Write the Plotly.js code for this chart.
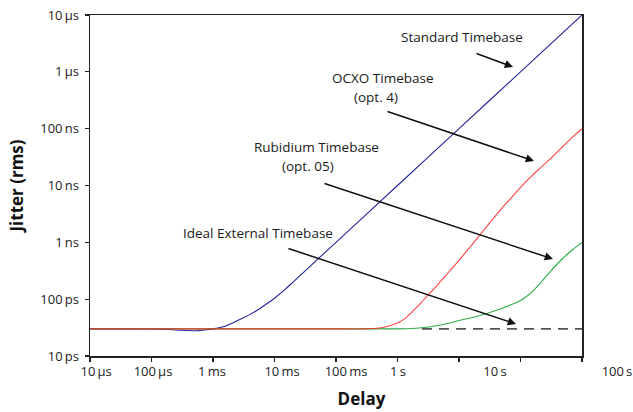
<!DOCTYPE html>
<html>
<head>
<meta charset="utf-8">
<script src="https://cdn.plot.ly/plotly-3.0.1.min.js"></script>
<style>html,body{margin:0;padding:0;background:#fff;}</style>
</head>
<body>
<div id="chart" style="width:633px;height:412px;"></div>
<script>
// ---- data (delay in seconds, jitter in seconds rms) ----
const stdDelay  = [1e-5, 5e-5, 1e-4, 2e-4, 3e-4, 4.5e-4, 6e-4, 8e-4, 1e-3, 1.2e-3, 1.5e-3, 2e-3, 3e-3, 4e-3, 5e-3, 7e-3, 1e-2, 1.5e-2, 2e-2, 3e-2, 1e-1, 1, 10, 100, 1000];
const stdJitter = [3e-11, 3e-11, 2.98e-11, 2.92e-11, 2.83e-11, 2.78e-11, 2.8e-11, 2.9e-11, 3.0e-11, 3.1e-11, 3.3e-11, 3.75e-11, 4.6e-11, 5.4e-11, 6.2e-11, 7.9e-11, 1.04e-10, 1.5e-10, 2.0e-10, 3.0e-10, 1e-9, 1e-8, 1e-7, 1e-6, 1e-5];

const ocxoDelay  = [1e-5, 1e-3, 1e-1, 0.3, 0.5, 0.7, 1, 1.3, 1.6, 2, 2.5, 3, 4, 5, 7, 10, 15, 20, 30, 40, 50, 70, 100, 150, 200, 300, 500, 700, 1000];
const ocxoJitter = [3e-11, 3e-11, 3e-11, 3.0e-11, 3.1e-11, 3.35e-11, 3.8e-11, 4.5e-11, 5.5e-11, 7e-11, 9e-11, 1.12e-10, 1.55e-10, 2.05e-10, 3.1e-10, 4.8e-10, 8.2e-10, 1.2e-9, 2.05e-9, 3.0e-9, 4.0e-9, 6.0e-9, 9.3e-9, 1.45e-8, 1.95e-8, 2.9e-8, 5e-8, 7.1e-8, 1e-7];

const rbDelay  = [1e-5, 1e-3, 1e-1, 1, 2, 3, 5, 7, 10, 15, 20, 30, 50, 70, 100, 130, 160, 200, 250, 300, 400, 500, 700, 1000];
const rbJitter = [3e-11, 3e-11, 3e-11, 3e-11, 3.08e-11, 3.2e-11, 3.5e-11, 3.8e-11, 4.2e-11, 4.65e-11, 5.0e-11, 5.7e-11, 6.9e-11, 8.0e-11, 9.5e-11, 1.15e-10, 1.4e-10, 1.8e-10, 2.4e-10, 3.0e-10, 4.2e-10, 5.35e-10, 7.4e-10, 1e-9];

const idealDelay  = [2.5, 1000];
const idealJitter = [3e-11, 3e-11];

const yTickVals = [1e-11, 1e-10, 1e-9, 1e-8, 1e-7, 1e-6, 1e-5];
const yTickText = ["10\u2009ps", "100\u2009ps", "1\u2009ns", "10\u2009ns", "100\u2009ns", "1\u2009\u00b5s", "10\u2009\u00b5s"];

const xTickVals = [1e-5, 1e-4, 1e-3, 1e-2, 1e-1, 1, 10, 100, 1000];
const xLabelText = ["10\u2009\u00b5s", "100\u2009\u00b5s", "1\u2009ms", "10\u2009ms", "100\u2009ms", "1\u2009s", "10\u2009s", "100\u2009s"];
const xLabelPos  = [-4.90, -3.976, -3.016, -1.878, -0.837, 0.008, 1.585, 3.569]; // log10 positions of printed labels

const seriesLabels = ["Standard Timebase", "OCXO Timebase", "(opt. 4)", "Rubidium Timebase", "(opt. 05)", "Ideal External Timebase"];

// ---- traces ----
const smooth = {shape: 'spline', smoothing: 0.5};
const traces = [
  {x: stdDelay, y: stdJitter, type: 'scatter', mode: 'lines', line: Object.assign({color: '#23239a', width: 1.1}, smooth), hoverinfo: 'skip'},
  {x: rbDelay, y: rbJitter, type: 'scatter', mode: 'lines', line: Object.assign({color: '#2eaa48', width: 1.1}, smooth), hoverinfo: 'skip'},
  {x: ocxoDelay, y: ocxoJitter, type: 'scatter', mode: 'lines', line: Object.assign({color: '#ff2020', width: 1.1}, smooth), opacity: 0.85, hoverinfo: 'skip'},
  {x: idealDelay, y: idealJitter, type: 'scatter', mode: 'lines', line: {color: '#555555', width: 1.6, dash: '10px,7px'}, hoverinfo: 'skip'},
  // carrier for the printed delay labels axis (no visible marks)
  {x: [], y: [], xaxis: 'x2', yaxis: 'y', type: 'scatter', mode: 'lines', hoverinfo: 'skip'}
];

function arrow(hx, hy, tx, ty) {
  return {x: hx, y: hy, ax: tx, ay: ty, xref: 'x', yref: 'y', axref: 'x', ayref: 'y',
          text: '', showarrow: true, arrowhead: 2, arrowsize: 1.1, arrowwidth: 1.5, arrowcolor: '#111', standoff: 0, startstandoff: 0};
}
function label(t, x, y) {
  return {x: x, y: y, xref: 'x', yref: 'y', text: t, showarrow: false, xanchor: 'center', yanchor: 'middle',
          font: {family: 'Open Sans', size: 13.5, color: '#1a1a1a'}};
}

const annotations = [
  arrow(1.878, -5.915, 1.260, -5.669),
  arrow(2.220, -7.569, -0.187, -6.689),
  arrow(2.528, -9.294, -1.211, -7.956),
  arrow(1.927, -10.437, -1.797, -9.100),
  label(seriesLabels[0], 1.049, -5.387),
  label(seriesLabels[1], -0.240, -6.110),
  label(seriesLabels[2], -0.355, -6.444),
  label(seriesLabels[3], -1.325, -7.330),
  label(seriesLabels[4], -1.455, -7.665),
  label(seriesLabels[5], -2.268, -8.836)
];

const plotW = 633 - 90;       // plot width incl. label strip
const frameW = 492;           // framed plot width

const layout = {
  width: 633, height: 412,
  margin: {l: 90, r: 0, t: 15, b: 56},
  paper_bgcolor: '#ffffff', plot_bgcolor: 'rgba(0,0,0,0)',
  showlegend: false,
  font: {family: 'Open Sans', size: 13, color: '#222'},
  xaxis: {
    type: 'log', range: [-5, 3], domain: [0, frameW / plotW], anchor: 'y',
    tickvals: xTickVals, ticktext: xTickVals.map(() => ''),
    ticks: 'outside', ticklen: 4, tickwidth: 1.2, tickcolor: '#222',
    showline: true, linecolor: '#222', linewidth: 1.5, mirror: true,
    showgrid: false, zeroline: false, fixedrange: true
  },
  xaxis2: {
    type: 'linear', range: [-5, -5 + 8 * plotW / frameW], domain: [0, 1], anchor: 'y',
    tickvals: xLabelPos, ticktext: xLabelText, ticks: '', ticklabeloverflow: 'allow',
    ticklabelstandoff: 6,
    tickfont: {family: 'Open Sans', size: 13, color: '#222'},
    showline: false, showgrid: false, zeroline: false, fixedrange: true,
    title: {text: 'Delay', font: {family: 'Open Sans', size: 17, color: '#111', weight: 700}, standoff: 14}
  },
  yaxis: {
    type: 'log', range: [-11, -5], anchor: 'x',
    tickvals: yTickVals, ticktext: yTickText,
    ticks: 'outside', ticklen: 4, tickwidth: 1.2, tickcolor: '#222',
    ticklabelstandoff: 3,
    tickfont: {family: 'Open Sans', size: 13, color: '#222'},
    showline: true, linecolor: '#222', linewidth: 1.5, mirror: true,
    showgrid: false, zeroline: false, fixedrange: true,
    title: {text: 'Jitter (rms)', font: {family: 'Open Sans', size: 17, color: '#111', weight: 700}, standoff: 12}
  },
  annotations: annotations
};

Plotly.newPlot('chart', traces, layout, {displayModeBar: false, staticPlot: true});
</script>
</body>
</html>
